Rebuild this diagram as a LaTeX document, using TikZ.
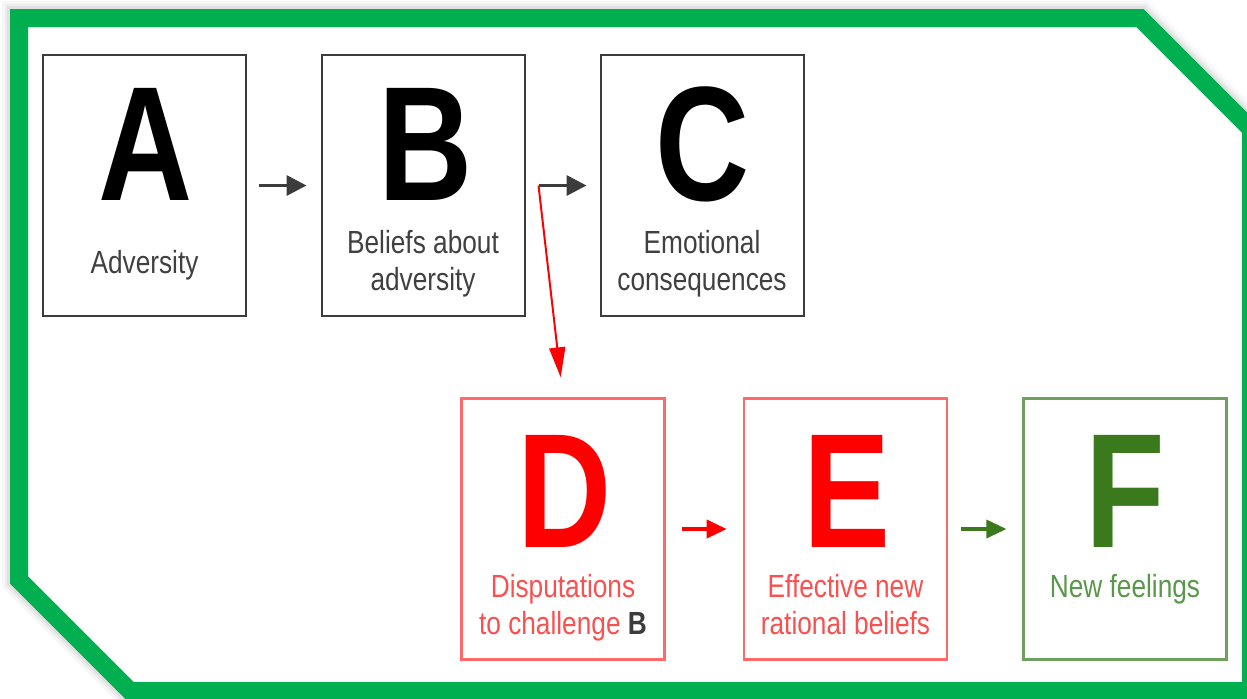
\documentclass[tikz,border=0pt]{standalone}
\usepackage{fontspec}
\usetikzlibrary{arrows.meta,calc}
\newfontfamily\lblfont[FakeStretch=0.82]{Liberation Sans}
\newfontfamily\bigfont[FakeStretch=0.8]{Liberation Sans}
\definecolor{frame}{RGB}{0,176,80}
\definecolor{boxgray}{RGB}{60,60,60}
\definecolor{txtgray}{RGB}{64,64,64}
\definecolor{pinkred}{RGB}{255,105,105}
\definecolor{redtxt}{RGB}{250,80,80}
\definecolor{darkgreen}{RGB}{58,122,28}
\definecolor{greenbox}{RGB}{110,160,95}
\definecolor{greentxt}{RGB}{90,150,75}
\tikzset{
  x=0.5pt, y=-0.5pt,
  stepbox/.style={draw=boxgray, line width=1pt, minimum width=101.5pt,
    minimum height=130.5pt, inner sep=0pt},
  redbox/.style={stepbox, draw=pinkred, line width=1.3pt},
  greenbx/.style={stepbox, draw=greenbox, line width=1.1pt},
  letter/.style={anchor=base, inner sep=0pt, text depth=0pt,
    font=\bigfont\bfseries\fontsize{81.5pt}{81.5pt}\selectfont},
  caption/.style={anchor=base, inner sep=0pt, align=center,
    font=\lblfont\fontsize{16pt}{18.5pt}\selectfont},
  blackarrow/.style={draw=boxgray, line width=1.8pt,
    -{Triangle[length=10pt,width=10pt]}},
  redarrow/.style={draw=red, line width=1.8pt,
    -{Triangle[length=10pt,width=9pt]}},
  greenarrow/.style={draw=darkgreen, line width=1.8pt,
    -{Triangle[length=10pt,width=9pt]}},
}
\begin{document}
\begin{tikzpicture}
\useasboundingbox (0,0) rectangle (1247,698);

% soft shadow outside the frame
\begin{scope}[even odd rule]
  \clip (-20,-20) rectangle (1267,718)
    (28,27) -- (1136,27) -- (1242,133) -- (1242,682) -- (134,682) -- (28,576) -- cycle;
  \foreach \w/\o in {34/0.03, 28/0.04, 24/0.05} {
    \draw[black, opacity=\o, line width=\w*0.5pt, line join=miter]
      (19,18) -- (1140,18) -- (1251,129) -- (1251,691) -- (130,691) -- (19,580) -- cycle;
  }
\end{scope}

% green frame
\draw[frame, line width=9pt, line join=miter]
  (19,18) -- (1140,18) -- (1251,129) -- (1251,691) -- (130,691) -- (19,580) -- cycle;

% boxes
\node[stepbox] (A) at (144.5,185.5) {};
\node[stepbox] (B) at (423,185.5) {};
\node[stepbox] (C) at (702,185.5) {};
\node[redbox]  (D) at (563,529) {};
\node[redbox]  (E) at (845.5,529) {};
\node[greenbx] (F) at (1125,529) {};

% big letters
\node[letter] (la) at (146,200) {A};
\node[letter] (lb) at (426,200) {B};
\node[letter] (lc) at (703,200) {C};
\node[letter, text=red] (ld) at (565,547) {D};
\node[letter, text=red] (le) at (847,547) {E};
\node[letter, text=darkgreen] (lf) at (1125,547) {F};

% captions (base anchor sits on the last line)
\node[caption, text=txtgray] (ta) at (144.5,273) {Adversity};
\node[caption, text=txtgray] (tb) at (423,290) {Beliefs about\\adversity};
\node[caption, text=txtgray] (tc) at (702,290) {Emotional\\consequences};
\node[caption, text=redtxt] (td) at (563,634)
  {Disputations\\to challenge {\color{boxgray}\bfseries B}};
\node[caption, text=redtxt] (te) at (845.5,634) {Effective new\\rational beliefs};
\node[caption, text=greentxt] (tf) at (1125,597) {New feelings};

% connectors
\coordinate (bc) at ($(B.east)+(13,0)$);
\draw[blackarrow, shorten <=6pt, shorten >=7pt] (A) -- (B);
\draw[blackarrow, shorten >=6.5pt] (bc) -- (C.west);
\draw[redarrow, line width=1pt, -{Triangle[length=15pt,width=8pt]}, shorten >=10pt]
  (bc) -- (D.north);
\draw[redarrow, shorten <=8pt, shorten >=8pt] (D) -- (E);
\draw[greenarrow, shorten <=6.5pt, shorten >=8pt] (E) -- (F);
\end{tikzpicture}
\end{document}
